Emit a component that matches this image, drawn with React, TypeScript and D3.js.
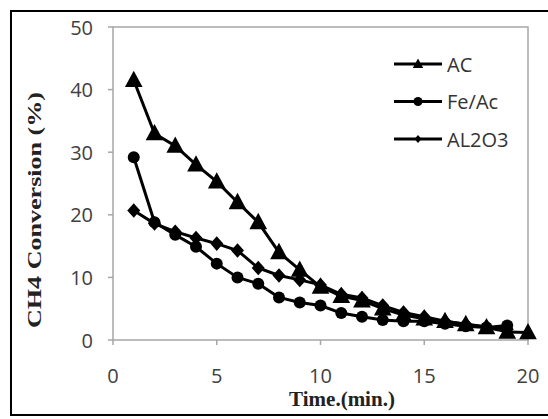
import React from "react";
import * as d3 from "d3";

const times = [1, 2, 3, 4, 5, 6, 7, 8, 9, 10, 11, 12, 13, 14, 15, 16, 17, 18, 19, 20];
const acValues = [41.5, 33, 31, 28, 25.3, 22, 18.8, 14, 11.2, 8.5, 7, 6.3, 5, 4, 3.4, 3, 2.5, 2, 1.3, 1.2];
const feTimes = [1, 2, 3, 4, 5, 6, 7, 8, 9, 10, 11, 12, 13, 14, 15, 16, 17, 18, 19];
const feValues = [29.2, 18.8, 16.8, 14.9, 12.2, 10, 9, 6.8, 6, 5.5, 4.3, 3.7, 3.2, 3, 3, 2.6, 2.2, 2, 2.3];
const alTimes = [1, 2, 3, 4, 5, 6, 7, 8, 9, 10, 11, 12, 13, 14, 15, 16, 17, 18, 19];
const alValues = [20.7, 18.6, 17.3, 16.3, 15.4, 14.3, 11.5, 10.3, 9.6, 8.8, 7.3, 6.7, 5.5, 4.4, 3.7, 3, 2.5, 2.1, 1.7];
const xTicks = [0, 5, 10, 15, 20];
const yTicks = [0, 10, 20, 30, 40, 50];
const seriesNames = ["AC", "Fe/Ac", "AL2O3"];

const W = 548;
const H = 419;

type Kind = "tri" | "circle" | "diamond";

function markerPath(kind: Kind, s: number): string {
  if (kind === "tri") {
    const h = s * 0.9;
    return `M0,${-h * 0.62}L${s * 0.52},${h * 0.45}L${-s * 0.52},${h * 0.45}Z`;
  }
  if (kind === "circle") {
    const r = s / 2;
    return `M${r},0A${r},${r} 0 1,1 ${-r},0A${r},${r} 0 1,1 ${r},0Z`;
  }
  const w = s / 2;
  const hh = s * 0.56;
  return `M0,${-hh}L${w},0L0,${hh}L${-w},0Z`;
}

export default function App() {
  const x = d3.scaleLinear().domain([0, 20]).range([113, 528]);
  const y = d3.scaleLinear().domain([0, 50]).range([340, 27]);
  const line = d3
    .line<[number, number]>()
    .x((d) => x(d[0]))
    .y((d) => y(d[1]));

  const series: { name: string; kind: Kind; pts: [number, number][]; size: number; lsize: number }[] = [
    { name: seriesNames[2], kind: "diamond", pts: alTimes.map((t, i) => [t, alValues[i]]), size: 13, lsize: 7 },
    { name: seriesNames[1], kind: "circle", pts: feTimes.map((t, i) => [t, feValues[i]]), size: 12, lsize: 9 },
    { name: seriesNames[0], kind: "tri", pts: times.map((t, i) => [t, acValues[i]]), size: 17, lsize: 10 },
  ];
  const legendOrder = [series[2], series[1], series[0]];

  const tickColor = "#404040";
  const axisColor = "#a6a6a6";

  return (
    <svg
      width={W}
      height={H}
      style={{ position: "absolute", left: 0, top: 0, background: "#fff" }}
    >
      <rect x={11} y={11} width={W + 10} height={404} fill="#fff" stroke="#000" strokeWidth={2} />
      {/* plot frame */}
      <rect x={113} y={27} width={415} height={313} fill="none" stroke={axisColor} strokeWidth={1.5} />
      {/* y ticks */}
      {yTicks.map((t) => (
        <g key={"y" + t}>
          <line x1={108} x2={113} y1={y(t)} y2={y(t)} stroke={axisColor} strokeWidth={1.5} />
          <text
            x={93}
            y={y(t)}
            textAnchor="end"
            dominantBaseline="central"
            fontFamily="Open Sans, Liberation Sans, sans-serif"
            fontSize={20}
            fill={tickColor}
          >
            {t}
          </text>
        </g>
      ))}
      {/* x ticks */}
      {xTicks.map((t) => (
        <g key={"x" + t}>
          <line x1={x(t)} x2={x(t)} y1={340} y2={345} stroke={axisColor} strokeWidth={1.5} />
          <text
            x={x(t)}
            y={375}
            textAnchor="middle"
            dominantBaseline="central"
            fontFamily="Open Sans, Liberation Sans, sans-serif"
            fontSize={20}
            fill={tickColor}
          >
            {t}
          </text>
        </g>
      ))}
      {/* axis titles */}
      <text
        x={342}
        y={406}
        textAnchor="middle"
        fontFamily="Liberation Serif, Times New Roman, serif"
        fontWeight="bold"
        fontSize={21}
        fill="#222"
      >
        Time.(min.)
      </text>
      <text
        transform={`translate(41,210) rotate(-90)`}
        textAnchor="middle"
        fontFamily="Liberation Serif, Times New Roman, serif"
        fontWeight="bold"
        fontSize={19}
        fill="#222"
        textLength={236}
        lengthAdjust="spacingAndGlyphs"
      >
        CH4 Conversion (%)
      </text>
      {/* series */}
      {series.map((s) => (
        <g key={s.name}>
          <path d={line(s.pts) || ""} fill="none" stroke="#000" strokeWidth={3} />
          {s.pts.map((p, i) => (
            <path
              key={i}
              d={markerPath(s.kind, s.size)}
              transform={`translate(${x(p[0])},${y(p[1])})`}
              fill="#000"
            />
          ))}
        </g>
      ))}
      {/* legend */}
      {legendOrder.map((s, i) => {
        const ly = 64 + i * 37.5;
        return (
          <g key={"l" + s.name}>
            <line x1={394} x2={442} y1={ly} y2={ly} stroke="#000" strokeWidth={3} />
            <path d={markerPath(s.kind, s.lsize)} transform={`translate(418,${ly})`} fill="#000" />
            <text
              x={447}
              y={ly}
              dominantBaseline="central"
              fontFamily="Open Sans, Liberation Sans, sans-serif"
              fontSize={20}
              fill="#333"
            >
              {s.name}
            </text>
          </g>
        );
      })}
    </svg>
  );
}
